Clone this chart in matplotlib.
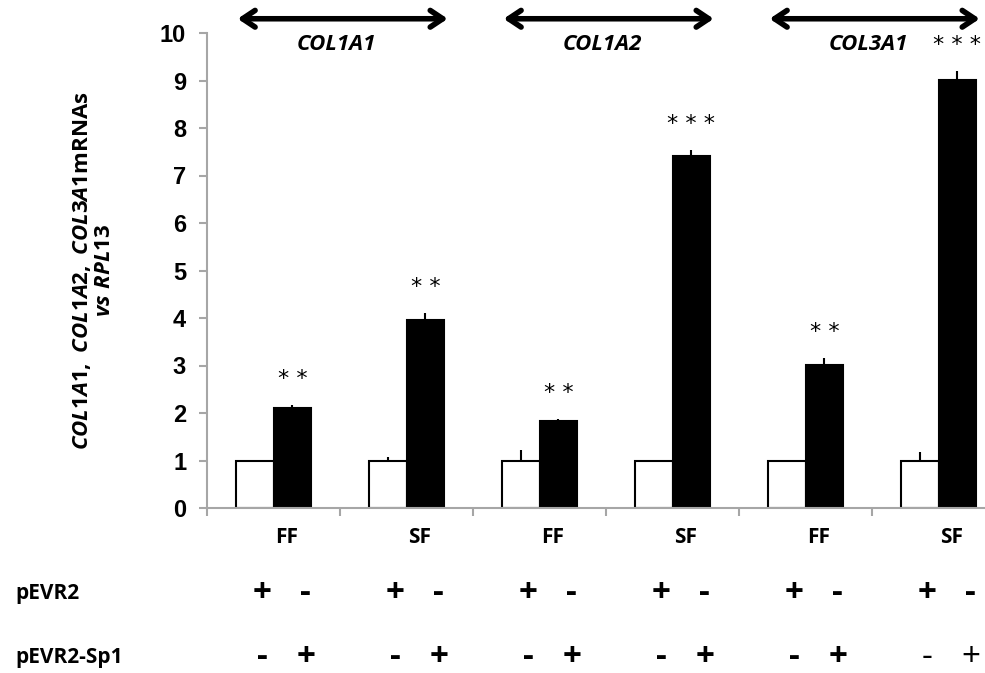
import matplotlib
matplotlib.use('Agg')
import matplotlib.pyplot as plt
import numpy as np

# Datos
genes = ['COL1A1', 'COL1A2', 'COL3A1']
condiciones = ['FF', 'SF', 'FF', 'SF', 'FF', 'SF']
pevr2 = [1.0, 1.0, 1.0, 1.0, 1.0, 1.0]
pevr2_err = [0.0, 0.08, 0.22, 0.02, 0.01, 0.18]
pevr2_sp1 = [2.10, 3.95, 1.83, 7.42, 3.02, 9.02]
pevr2_sp1_err = [0.06, 0.15, 0.05, 0.12, 0.13, 0.17]
estrellas = ['* *', '* *', '* *', '* * *', '* *', '* * *']
fila_pevr2 = ['+', '-']
fila_sp1 = ['-', '+']

fuente = 'Open Sans'
plt.rcParams['mathtext.fontset'] = 'custom'
plt.rcParams['mathtext.it'] = 'Open Sans:italic:bold'
plt.rcParams['mathtext.rm'] = 'Open Sans:bold'

fig = plt.figure(figsize=(9.85, 6.73), dpi=100)
ax = fig.add_axes([207 / 985, 165 / 673, 798 / 985, 475 / 673])

x = np.arange(len(condiciones)) + 0.5
w = 0.285
gris = '#a6a6a6'

ax.bar(x - w / 2, pevr2, w, color='white', edgecolor='black', linewidth=1.5, zorder=2)
ax.bar(x + w / 2, pevr2_sp1, w, color='black', edgecolor='black', linewidth=1.5, zorder=2)
ax.errorbar(x - w / 2, pevr2, yerr=[np.zeros(6), pevr2_err], fmt='none', ecolor='black',
            elinewidth=1.5, capsize=0, zorder=3)
ax.errorbar(x + w / 2, pevr2_sp1, yerr=[np.zeros(6), pevr2_sp1_err], fmt='none', ecolor='black',
            elinewidth=1.5, capsize=0, zorder=3)

# Asteriscos de significancia
for xi, v, e, s in zip(x, pevr2_sp1, pevr2_sp1_err, estrellas):
    ax.text(xi + w / 2, v + e + 0.55, s, ha='center', va='center', fontsize=16,
            family='DejaVu Sans')

ax.set_xlim(0, 6)
ax.set_ylim(0, 10)
ax.set_yticks(range(0, 11))
ax.set_xticks(range(0, 7))
ax.set_xticklabels([])
for sp in ['top', 'right']:
    ax.spines[sp].set_visible(False)
for sp in ['left', 'bottom']:
    ax.spines[sp].set_color(gris)
    ax.spines[sp].set_linewidth(1.5)
ax.tick_params(axis='both', colors=gris, width=1.5, length=6, direction='out')
ax.tick_params(axis='y', labelcolor='black', pad=9)
for lab in ax.get_yticklabels():
    lab.set_fontfamily('Liberation Sans')
    lab.set_fontweight('bold')
    lab.set_fontsize(17)

ax.set_ylabel(r'$\mathit{COL1A1,\ COL1A2,\ COL3A1}$mRNAs' + '\n' + r'$\mathit{vs\ RPL13}$',
              fontsize=16, fontweight='bold', family=fuente, linespacing=1.1)
ax.yaxis.set_label_coords(-0.115, 0.5)

# Flechas de cada gen
tr = ax.get_xaxis_transform()
for i, g in enumerate(genes):
    ax.annotate('', xy=(2 * i + 0.23, 1.03), xytext=(2 * i + 1.81, 1.03), xycoords=tr,
                textcoords=tr, annotation_clip=False,
                arrowprops=dict(arrowstyle='<->,head_length=0.9,head_width=0.6', lw=4,
                                color='black', shrinkA=0, shrinkB=0))
    ax.text(2 * i + 0.97, 0.975, g, transform=tr, ha='center', va='center', fontsize=16,
            fontweight='bold', style='italic', family=fuente)

# Etiquetas FF / SF
for xi, c in zip(x, condiciones):
    ax.text(xi + 0.1, -0.062, c, transform=tr, ha='center', va='center', fontsize=15,
            fontweight='bold', family=fuente)

# Filas de plásmidos
fig.text(15 / 985, 1 - 593 / 673, 'pEVR2', ha='left', va='center', fontsize=15,
         fontweight='bold', family=fuente)
fig.text(15 / 985, 1 - 657 / 673, 'pEVR2-Sp1', ha='left', va='center', fontsize=15,
         fontweight='bold', family=fuente)
for k, xi in enumerate(x):
    peso = 'normal' if k == len(x) - 1 else 'bold'
    for j, off in enumerate([-w / 2 + 0.06, w / 2 + 0.1]):
        ax.text(xi + off, -0.179, fila_pevr2[j], transform=tr, ha='center',
                va='center', fontsize=24, fontweight='bold', family=fuente)
        ax.text(xi + off, -0.314, fila_sp1[j], transform=tr, ha='center',
                va='center', fontsize=24, fontweight=peso, family=fuente)

fig.savefig('out.png', dpi=100)
